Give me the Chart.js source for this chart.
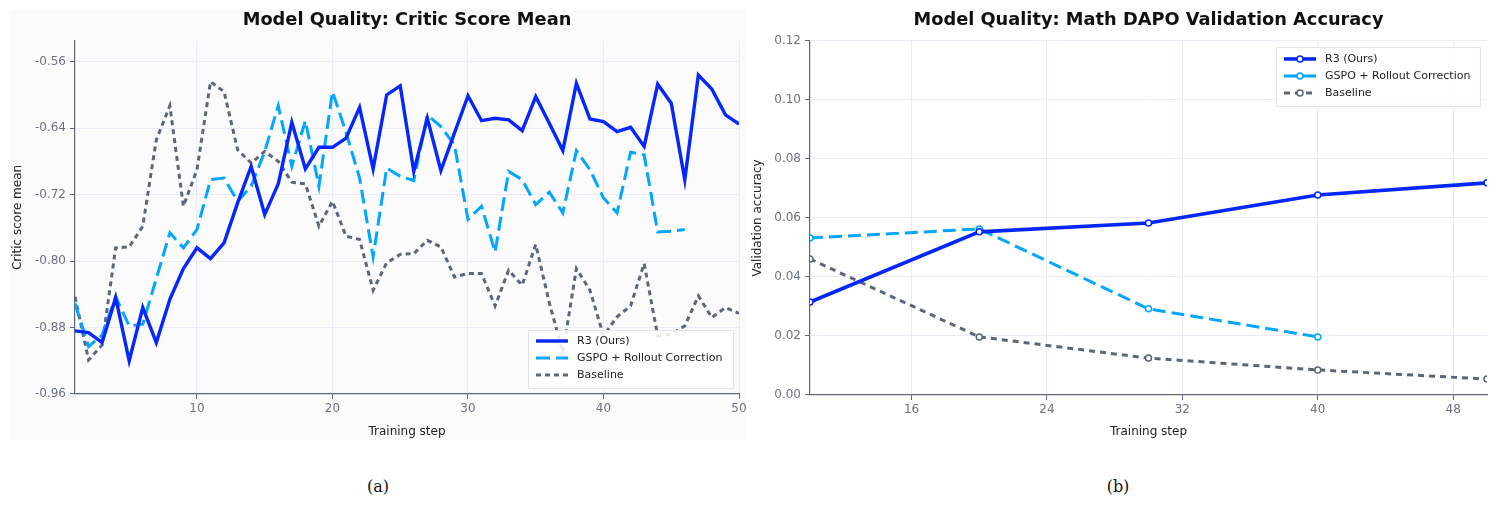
<!DOCTYPE html>
<html>
<head>
<meta charset="utf-8">
<script src="https://cdn.jsdelivr.net/npm/chart.js@4.4.1/dist/chart.umd.min.js"></script>
<style>
    body { margin: 0; background: #ffffff; width: 1500px; height: 506px; position: relative; overflow: hidden; }
    #panelA { position: absolute; left: 10px; top: 10px; width: 735px; height: 430px; background: #fbfbfc; }
    #chartA { position: absolute; left: 0; top: 0; }
    #chartB { position: absolute; left: 750px; top: 0; }
    .caption { position: absolute; top: 477px; font: 16px "DejaVu Serif", "Liberation Serif", serif; color: #111; transform: translateX(-50%); }
</style>
</head>
<body>
<div id="panelA"></div>
<canvas id="chartA" width="750" height="450"></canvas>
<canvas id="chartB" width="750" height="450"></canvas>
<div class="caption" style="left:378px">(a)</div>
<div class="caption" style="left:1118px">(b)</div>
<script>
// ---- left chart: critic score mean ----
const steps = [1, 2, 3, 4, 5, 6, 7, 8, 9, 10, 11, 12, 13, 14, 15, 16, 17, 18, 19, 20,
    21, 22, 23, 24, 25, 26, 27, 28, 29, 30, 31, 32, 33, 34, 35, 36, 37, 38, 39, 40,
    41, 42, 43, 44, 45, 46, 47, 48, 49, 50];
const r3Critic = [-0.884, -0.886, -0.898, -0.844, -0.920, -0.856, -0.898, -0.846, -0.809, -0.784,
    -0.797, -0.778, -0.730, -0.686, -0.744, -0.707, -0.633, -0.689, -0.663, -0.663,
    -0.652, -0.615, -0.689, -0.600, -0.589, -0.692, -0.628, -0.691, -0.646, -0.601,
    -0.631, -0.628, -0.630, -0.643, -0.602, -0.634, -0.667, -0.586, -0.629, -0.632,
    -0.644, -0.639, -0.662, -0.587, -0.610, -0.702, -0.576, -0.593, -0.624, -0.635];
const gspoCritic = [-0.851, -0.903, -0.889, -0.843, -0.878, -0.876, -0.821, -0.766, -0.784, -0.762,
    -0.702, -0.700, -0.728, -0.710, -0.668, -0.613, -0.686, -0.631, -0.710, -0.596,
    -0.645, -0.700, -0.795, -0.688, -0.698, -0.703, -0.624, -0.638, -0.660, -0.750,
    -0.734, -0.789, -0.692, -0.702, -0.732, -0.717, -0.742, -0.667, -0.690, -0.724,
    -0.742, -0.669, -0.672, -0.765, -0.764, -0.762, null, null, null, null];
const baseCritic = [-0.843, -0.919, -0.901, -0.784, -0.783, -0.758, -0.654, -0.613, -0.734, -0.690,
    -0.584, -0.596, -0.666, -0.682, -0.668, -0.680, -0.705, -0.707, -0.758, -0.728,
    -0.770, -0.774, -0.835, -0.802, -0.792, -0.791, -0.775, -0.783, -0.819, -0.815,
    -0.815, -0.854, -0.811, -0.829, -0.780, -0.850, -0.910, -0.809, -0.835, -0.890,
    -0.867, -0.854, -0.803, -0.890, -0.888, -0.878, -0.842, -0.868, -0.856, -0.863];
const xTicksA = [10, 20, 30, 40, 50];
const yTicksA = [-0.96, -0.88, -0.80, -0.72, -0.64, -0.56];

// ---- right chart: validation accuracy ----
const valSteps = [10, 20, 30, 40, 50];
const r3Val = [0.0315, 0.0553, 0.0583, 0.0678, 0.0719];
const gspoVal = [0.0532, 0.0563, 0.0292, 0.0197];
const baseVal = [0.0461, 0.0197, 0.0125, 0.0085, 0.0054];
const xTicksB = [16, 24, 32, 40, 48];
const yTicksB = [0, 0.02, 0.04, 0.06, 0.08, 0.10, 0.12];

const labelsSeries = ['R3 (Ours)', 'GSPO + Rollout Correction', 'Baseline'];

const FONT = '"DejaVu Sans", "Noto Sans", sans-serif';
const blue = '#0526ff';
const lightBlue = '#00a6ff';
const slate = '#5c6679';
const gridColor = '#e9ecf8';
const axisColor = '#5f687a';
const tickText = '#6b7385';

function toPoints(xs, ys) {
    let pts = [];
    for (let i = 0; i < ys.length; i++) {
        pts.push({x: xs[i], y: ys[i]});
    }
    return pts;
}

// legend drawn inside the plot, on top of the lines
const boxLegend = {
    id: 'boxLegend',
    afterDatasetsDraw(chart, args, opts) {
        const ctx = chart.ctx;
        const area = chart.chartArea;
        const w = opts.width, h = opts.height;
        const x = area.right - opts.marginX - w;
        const y = opts.bottom ? area.bottom - opts.marginY - h : area.top + opts.marginY;
        ctx.save();
        ctx.fillStyle = 'rgba(255,255,255,0.86)';
        ctx.fillRect(x, y, w, h);
        ctx.strokeStyle = '#dfe4f4';
        ctx.lineWidth = 1;
        ctx.strokeRect(x + 0.5, y + 0.5, w - 1, h - 1);
        chart.data.datasets.forEach((ds, i) => {
            const ly = y + opts.firstRow + i * 17;
            ctx.strokeStyle = ds.borderColor;
            ctx.lineWidth = ds.borderWidth;
            ctx.setLineDash(ds.borderDash || []);
            ctx.beginPath();
            ctx.moveTo(x + 8, ly);
            ctx.lineTo(x + 40, ly);
            ctx.stroke();
            ctx.setLineDash([]);
            if (ds.pointRadius) {
                ctx.beginPath();
                ctx.arc(x + 24, ly, ds.pointRadius, 0, Math.PI * 2);
                ctx.fillStyle = '#ffffff';
                ctx.fill();
                ctx.lineWidth = ds.pointBorderWidth;
                ctx.stroke();
            }
            ctx.fillStyle = '#222222';
            ctx.font = '11px ' + FONT;
            ctx.textBaseline = 'middle';
            ctx.fillText(ds.label, x + 49, ly);
        });
        ctx.restore();
    }
};

function baseOptions(title, yTitle, xMin, xMax, yMin, yMax, xTicks, yTicks, yWidth, xHeight, yTitlePad, legendOpts) {
    return {
        responsive: false,
        animation: false,
        layout: {padding: {left: 0, right: 11, top: 0, bottom: 0}},
        plugins: {
            legend: {display: false},
            tooltip: {enabled: false},
            title: {
                display: true,
                fullSize: false,
                text: title,
                color: '#111111',
                font: {family: FONT, size: 17.8, weight: 'bold'},
                padding: {top: 10, bottom: 9.6}
            },
            boxLegend: legendOpts
        },
        scales: {
            x: {
                type: 'linear',
                min: xMin,
                max: xMax,
                afterBuildTicks: (s) => { s.ticks = xTicks.map(v => ({value: v})); },
                afterFit: (s) => { s.height = xHeight; },
                ticks: {color: tickText, font: {family: FONT, size: 12}, padding: 3, maxRotation: 0},
                grid: {color: gridColor, tickColor: axisColor, tickLength: 5},
                border: {color: axisColor, width: 1.2},
                title: {display: true, text: 'Training step', color: '#222222',
                    font: {family: FONT, size: 12}, padding: {top: 0, bottom: 10.8}}
            },
            y: {
                min: yMin,
                max: yMax,
                afterBuildTicks: (s) => { s.ticks = yTicks.map(v => ({value: v})); },
                afterFit: (s) => { s.width = yWidth; },
                ticks: {color: tickText, font: {family: FONT, size: 12}, padding: 4,
                    callback: (v) => Number(v).toFixed(2)},
                grid: {color: gridColor, tickColor: axisColor, tickLength: 5},
                border: {color: axisColor, width: 1.2},
                title: {display: true, text: yTitle, color: '#222222',
                    font: {family: FONT, size: 12}, padding: {top: yTitlePad, bottom: 0}}
            }
        }
    };
}

const optsA = baseOptions('Model Quality: Critic Score Mean', 'Critic score mean',
    1, 50, -0.96, -0.535, xTicksA, yTicksA, 75, 56, 10.8,
    {width: 206, height: 59, marginX: 5, marginY: 5, bottom: true, firstRow: 11});
optsA.layout.padding.right = 11;

new Chart(document.getElementById('chartA'), {
    type: 'line',
    data: {
        datasets: [{
            label: labelsSeries[0],
            data: toPoints(steps, r3Critic),
            borderColor: blue,
            borderWidth: 3.4,
            pointRadius: 0,
            tension: 0
        }, {
            label: labelsSeries[1],
            data: toPoints(steps, gspoCritic),
            borderColor: lightBlue,
            borderWidth: 3,
            borderDash: [14, 6],
            pointRadius: 0,
            spanGaps: false,
            tension: 0
        }, {
            label: labelsSeries[2],
            data: toPoints(steps, baseCritic),
            borderColor: slate,
            borderWidth: 3,
            borderDash: [5, 4],
            pointRadius: 0,
            tension: 0
        }]
    },
    options: optsA,
    plugins: [boxLegend]
});

const optsB = baseOptions('Model Quality: Math DAPO Validation Accuracy', 'Validation accuracy',
    10, 50, 0, 0.12, xTicksB, yTicksB, 60, 55, 1,
    {width: 205, height: 60, marginX: 6, marginY: 6, bottom: false, firstRow: 12});
optsB.layout.padding.right = 13;

new Chart(document.getElementById('chartB'), {
    type: 'line',
    data: {
        datasets: [{
            label: labelsSeries[0],
            data: toPoints(valSteps, r3Val),
            borderColor: blue,
            borderWidth: 3.6,
            pointRadius: 3,
            pointBackgroundColor: '#ffffff',
            pointBorderColor: blue,
            pointBorderWidth: 1.5,
            tension: 0
        }, {
            label: labelsSeries[1],
            data: toPoints(valSteps, gspoVal),
            borderColor: lightBlue,
            borderWidth: 3,
            borderDash: [13, 6],
            pointRadius: 3,
            pointBackgroundColor: '#ffffff',
            pointBorderColor: lightBlue,
            pointBorderWidth: 1.5,
            tension: 0
        }, {
            label: labelsSeries[2],
            data: toPoints(valSteps, baseVal),
            borderColor: slate,
            borderWidth: 3,
            borderDash: [6, 5],
            pointRadius: 3,
            pointBackgroundColor: '#ffffff',
            pointBorderColor: slate,
            pointBorderWidth: 1.5,
            tension: 0
        }]
    },
    options: optsB,
    plugins: [boxLegend]
});
</script>
</body>
</html>
